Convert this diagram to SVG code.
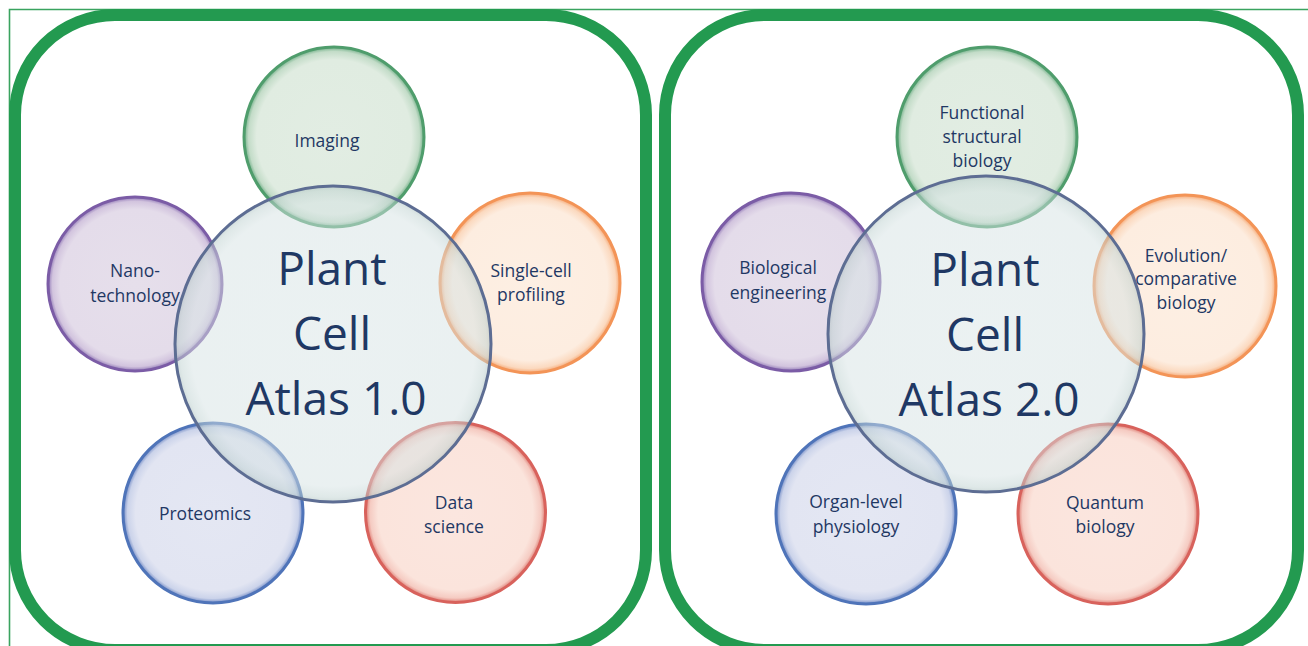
<svg xmlns="http://www.w3.org/2000/svg" width="1308" height="646" viewBox="0 0 1308 646">
<style>
.panel{fill:none;stroke:#239a50;stroke-width:12}
.frame{fill:none;stroke:#3aa35f;stroke-width:1.6}
.lbl{font-family:"Open Sans","Noto Sans",sans-serif;font-size:17.5px;fill:#1f3864;text-anchor:middle}
.big{font-family:"Open Sans","Noto Sans",sans-serif;font-size:46px;fill:#1f3864;text-anchor:middle}
.hub{fill:url(#gHub);fill-opacity:0.5;stroke:#5d6d93;stroke-width:3}
.g{fill:url(#gGreen);stroke:#4f9d6c;stroke-width:3}
.p{fill:url(#gPurple);stroke:#7b5ca6;stroke-width:3}
.o{fill:url(#gOrange);stroke:#f39457;stroke-width:3}
.b{fill:url(#gBlue);stroke:#4f74b9;stroke-width:3}
.r{fill:url(#gRed);stroke:#d8625c;stroke-width:3}
</style>
<defs>
<radialGradient id="gHub"><stop offset="0" stop-color="#d7e4e5"/><stop offset="0.9" stop-color="#d5e2e3"/><stop offset="0.97" stop-color="#bfd2d1"/><stop offset="1" stop-color="#a5bbba"/></radialGradient>
<radialGradient id="gGreen"><stop offset="0" stop-color="#e2ede3"/><stop offset="0.86" stop-color="#e0ece1"/><stop offset="0.95" stop-color="#c3dcc8"/><stop offset="1" stop-color="#6fae86"/></radialGradient>
<radialGradient id="gPurple"><stop offset="0" stop-color="#e6dfeb"/><stop offset="0.86" stop-color="#e4dcea"/><stop offset="0.95" stop-color="#d2c4de"/><stop offset="1" stop-color="#9078b6"/></radialGradient>
<radialGradient id="gOrange"><stop offset="0" stop-color="#fdefe3"/><stop offset="0.86" stop-color="#fdede0"/><stop offset="0.95" stop-color="#fbd9bf"/><stop offset="1" stop-color="#f5a672"/></radialGradient>
<radialGradient id="gBlue"><stop offset="0" stop-color="#e4e7f3"/><stop offset="0.86" stop-color="#e2e5f2"/><stop offset="0.95" stop-color="#cbd3ea"/><stop offset="1" stop-color="#7089c4"/></radialGradient>
<radialGradient id="gRed"><stop offset="0" stop-color="#fbe6df"/><stop offset="0.86" stop-color="#fbe4dc"/><stop offset="0.95" stop-color="#f5cbc2"/><stop offset="1" stop-color="#de7c73"/></radialGradient>
</defs>
<rect width="1308" height="646" fill="#ffffff"/>
<path class="frame" d="M9.5,646 V9.5 H1308"/>
<rect id="panel-left" class="panel" x="15" y="15" width="631" height="635" rx="100" ry="100"/>
<rect id="panel-right" class="panel" x="665" y="15" width="633" height="635" rx="100" ry="100"/>

<g id="imaging"><circle class="g" cx="334" cy="137" r="90"/><text class="lbl" x="327" y="147">Imaging</text></g>
<g id="nanotechnology"><circle class="p" cx="135" cy="284" r="87"/><text class="lbl" x="135" y="277">Nano-</text><text class="lbl" x="135" y="302">technology</text></g>
<g id="single-cell"><circle class="o" cx="530" cy="283" r="90"/><text class="lbl" x="531" y="277">Single-cell</text><text class="lbl" x="531" y="301">profiling</text></g>
<g id="proteomics"><circle class="b" cx="213" cy="513" r="90"/><text class="lbl" x="205" y="520">Proteomics</text></g>
<g id="data-science"><circle class="r" cx="455.5" cy="512.5" r="90"/><text class="lbl" x="454" y="509">Data</text><text class="lbl" x="454" y="533">science</text></g>
<g id="pca1"><circle class="hub" cx="333" cy="344" r="158"/><text class="big" x="332" y="285">Plant</text><text class="big" x="332" y="350">Cell</text><text class="big" x="336" y="415">Atlas 1.0</text></g>

<g id="functional"><circle class="g" cx="987" cy="137" r="90"/><text class="lbl" x="982" y="119">Functional</text><text class="lbl" x="982" y="143">structural</text><text class="lbl" x="982" y="167">biology</text></g>
<g id="bioeng"><circle class="p" cx="791" cy="282" r="89"/><text class="lbl" x="778" y="274">Biological</text><text class="lbl" x="778" y="299">engineering</text></g>
<g id="evolution"><circle class="o" cx="1185" cy="286" r="91"/><text class="lbl" x="1186" y="262">Evolution/</text><text class="lbl" x="1186" y="285">comparative</text><text class="lbl" x="1186" y="309">biology</text></g>
<g id="organ"><circle class="b" cx="866" cy="514" r="90"/><text class="lbl" x="856" y="508">Organ-level</text><text class="lbl" x="856" y="533">physiology</text></g>
<g id="quantum"><circle class="r" cx="1108" cy="514" r="90"/><text class="lbl" x="1105" y="509">Quantum</text><text class="lbl" x="1105" y="533">biology</text></g>
<g id="pca2"><circle class="hub" cx="986" cy="334" r="158"/><text class="big" x="985" y="286">Plant</text><text class="big" x="985" y="351">Cell</text><text class="big" x="989" y="416">Atlas 2.0</text></g>
<g id="connectors"/>
</svg>
